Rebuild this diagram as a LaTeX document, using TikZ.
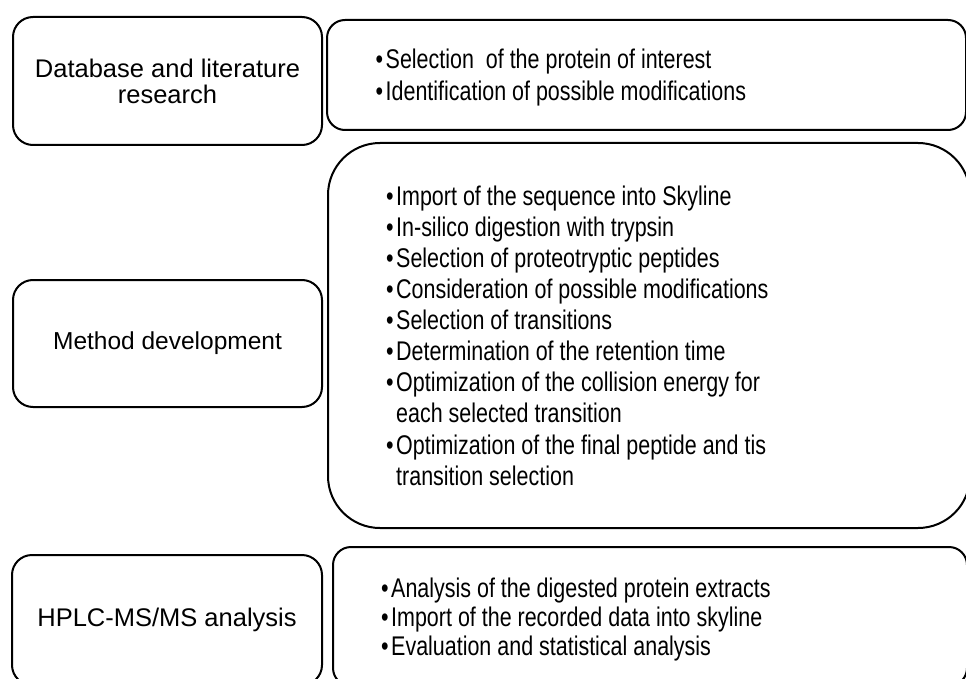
\documentclass[tikz,border=0pt]{standalone}
\usepackage{fontspec}
\setmainfont{Liberation Sans}
\newfontfamily\narrowfont[FakeStretch=0.795]{Liberation Sans}
\newcommand{\bul}{•\kern2.5pt}
\newcommand{\nobul}{\hphantom{•\kern2.5pt}}
\begin{document}
\begin{tikzpicture}[x=1pt,y=-1pt,
  box/.style={draw=black, line width=2pt, rounded corners=#1, fill=white, inner sep=0pt},
  box/.default=20pt,
  lefttext/.style={font=\fontsize{25.5}{26}\selectfont, align=center},
  listtext/.style={anchor=north west, inner sep=0pt, align=left, font=\narrowfont\fontsize{27}{#1}\selectfont},
  listtext/.default=31.1pt]
\useasboundingbox (0,0) rectangle (966,679);
\clip (0,0) rectangle (966,679);

% left boxes
\node[box, minimum width=309pt, minimum height=128pt, lefttext] (L1) at (167.5,81)
  {Database and literature\\research};
\node[box, minimum width=309pt, minimum height=127pt, lefttext, font=\fontsize{24.5}{26}\selectfont] (L2) at (167.5,343.5)
  {Method development};
\node[box, minimum width=310pt, minimum height=130pt, lefttext] (L3) at (167,620)
  {HPLC-MS/MS analysis};

% right boxes
\node[box=18pt, minimum width=639pt, minimum height=110pt] (R1) at (646.5,75) {};
\node[box=52pt, minimum width=642pt, minimum height=385pt] (R2) at (649,335.5) {};
\node[box=18pt, minimum width=634pt, minimum height=139pt] (R3) at (650,616.5) {};

% lists
\node[listtext=32pt] (T1) at (375.5,48.5)
  {\bul Selection~ of the protein of interest\\
   \bul Identification of possible modifications};
\node[listtext] (T2) at (386,185.5)
  {\bul Import of the sequence into Skyline\\
   \bul In-silico digestion with trypsin\\
   \bul Selection of proteotryptic peptides\\
   \bul Consideration of possible modifications\\
   \bul Selection of transitions\\
   \bul Determination of the retention time\\
   \bul Optimization of the collision energy for\\
   \nobul each selected transition\\
   \bul Optimization of the final peptide and tis\\
   \nobul transition selection};
\node[listtext=29pt] (T3) at (381,577.5)
  {\bul Analysis of the digested protein extracts\\
   \bul Import of the recorded data into skyline\\
   \bul Evaluation and statistical analysis};
\end{tikzpicture}
\end{document}
